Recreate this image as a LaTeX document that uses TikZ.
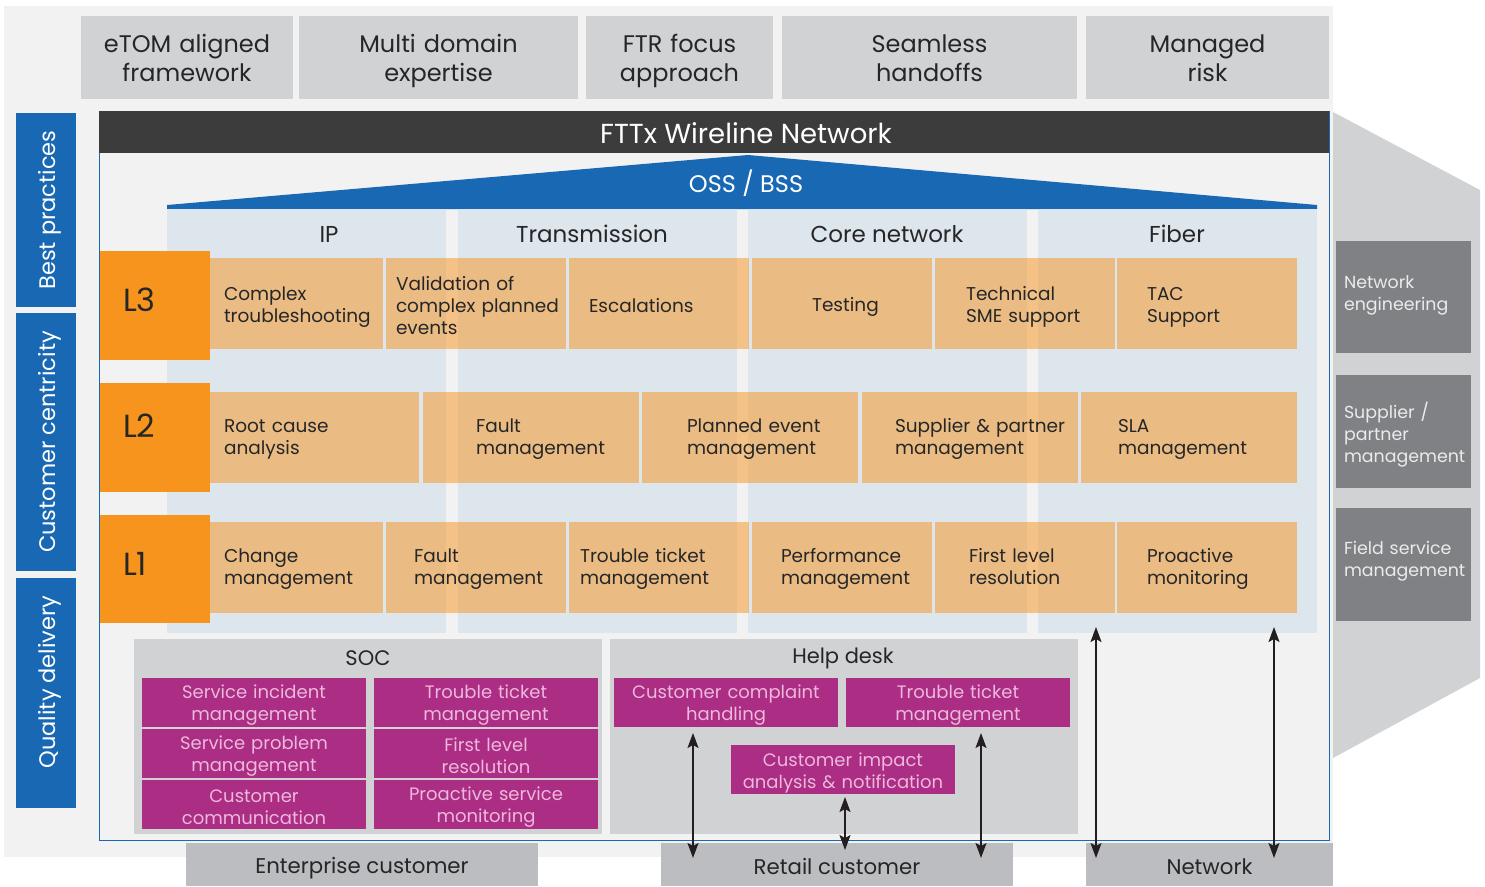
\documentclass[tikz,border=0pt]{standalone}
\usepackage{fontspec}
\setmainfont{Poppins}
\usetikzlibrary{arrows.meta}
\hyphenpenalty=10000
\exhyphenpenalty=10000
\definecolor{bgl}{HTML}{F2F2F2}
\definecolor{tgrey}{HTML}{D1D2D4}
\definecolor{cgrey}{HTML}{BCBDC0}
\definecolor{dgrey}{HTML}{808185}
\definecolor{hbar}{HTML}{3C3C3C}
\definecolor{blu}{HTML}{1868B3}
\definecolor{lblu}{HTML}{DDE5ED}
\definecolor{org}{HTML}{F7941D}
\definecolor{mag}{HTML}{AB2D84}
\definecolor{mpink}{HTML}{EDB8DC}
\definecolor{txt}{HTML}{262626}
\definecolor{arrc}{HTML}{231F20}
\newcommand\myfs[2]{\fontsize{#1}{#2}\selectfont}
\newcommand\mysta{\rule{0pt}{1.1em}}
\newcommand\mystb{\rule[-0.12em]{0pt}{0.12em}}
\newcommand\bx[7][]{\pgfmathsetmacro\myW{#4-#3}\pgfmathsetmacro\myH{#6-#5}%
  \node[#1,minimum width=\myW pt,minimum height=\myH pt] (#2) at ({(#3+#4)/2},{(#5+#6)/2}) {#7};}
\begin{document}
\begin{tikzpicture}[x=1pt,y=-1pt,
  every node/.style={inner sep=0pt,outer sep=0pt,execute at begin node=\mysta,execute at end node=\mystb},
  topbox/.style={fill=tgrey,text=txt,align=center,font=\myfs{24}{29},execute at end node={\rule[-6.9pt]{0pt}{0pt}}},
  bluebar/.style={fill=blu,text=white,font=\myfs{22.5}{26}},
  col/.style={fill=lblu},
  colhead/.style={text=txt,font=\myfs{23}{28}},
  lbox/.style={fill=org},
  ltext/.style={text=txt,font=\myfs{32}{36}},
  tan/.style={fill=org,fill opacity=0.5,text opacity=1,text=txt,align=left,font=\myfs{18.5}{22}},
  up3/.style={execute at end node={\rule[-8.2pt]{0pt}{0pt}}},
  greybox/.style={fill=tgrey},
  glabel/.style={text=txt,font=\myfs{21}{25}},
  magbox/.style={fill=mag,text=mpink,align=center,text width=224pt,font=\myfs{18}{22}},
  rbox/.style={fill=dgrey},
  rtext/.style={text=white!92!black,align=left,text width=125pt,font=\myfs{17.4}{22}},
  custbox/.style={fill=cgrey,text=txt,font=\myfs{21.3}{25}},
  arr/.style={draw=arrc,line width=1.5pt,{Stealth[length=15pt,width=11pt,inset=3pt]}-{Stealth[length=15pt,width=11pt,inset=3pt]}}
]
\useasboundingbox (0,0) rectangle (1485,886);
\fill[bgl] (4,6) rectangle (1333,857);
% right trapezoid
\fill[tgrey] (1333,112) -- (1480,190) -- (1480,678) -- (1333,758) -- cycle;
% top boxes
\bx[topbox,text width=212pt]{t1}{81}{293}{16}{99}{eTOM aligned\\framework}
\bx[topbox,text width=279pt]{t2}{299}{578}{16}{99}{Multi domain\\expertise}
\bx[topbox,text width=187pt]{t3}{586}{773}{16}{99}{FTR focus\\approach}
\bx[topbox,text width=295pt]{t4}{782}{1077}{16}{99}{Seamless\\handoffs}
\bx[topbox,text width=243pt]{t5}{1086}{1329}{16}{99}{Managed\\risk}
% left bars
\node[bluebar,rotate=90,minimum width=194pt,minimum height=60pt] (b1) at (46,210) {Best practices};
\node[bluebar,rotate=90,minimum width=258pt,minimum height=60pt] (b2) at (46,442) {Customer centricity};
\node[bluebar,rotate=90,minimum width=230pt,minimum height=60pt] (b3) at (46,693) {\hspace{22pt}Quality delivery};
% main frame
\bx[fill=bgl,draw=blu,line width=1pt]{frame}{99}{1329}{111}{840}{}
\bx[fill=hbar]{hdr}{99}{1329}{111}{153}{}
\node[text=white,font=\myfs{27.5}{32}] (hdrt) at (746,130) {FTTx Wireline Network};
% roof
\fill[blu] (167,209) -- (167,205) -- (748,155) -- (1317,205) -- (1317,209) -- cycle;
\node[text=white,font=\myfs{24}{28}] (oss) at (746,181) {OSS / BSS};
% columns
\bx[col]{cIP}{167}{446}{209}{633}{}
\bx[col]{cTR}{458}{737}{209}{633}{}
\bx[col]{cCN}{748}{1027}{209}{633}{}
\bx[col]{cFI}{1038}{1317}{209}{633}{}
\node[colhead] (hIP) at (329,231) {IP};
\node[colhead] (hTR) at (592,231) {Transmission};
\node[colhead] (hCN) at (887,231) {Core network};
\node[colhead] (hFI) at (1177,231) {Fiber};
% level boxes
\bx[lbox]{L3}{100}{210}{251}{360}{}
\bx[lbox]{L2}{100}{210}{383}{492}{}
\bx[lbox]{L1}{100}{210}{515}{623}{}
\node[ltext,anchor=west] (L3t) at (123,296) {L3};
\node[ltext,anchor=west] (L2t) at (123,422) {L2};
\node[ltext,anchor=west] (L1t) at (123,560) {L1};
% L3 row
\bx[tan,text width=145pt]{a1}{210}{383}{258}{349}{Complex\\troubleshooting}
\bx[tan,text width=160pt]{a2}{386}{566}{258}{349}{Validation~of\\complex~planned\\events}
\bx[tan,text width=140pt]{a3}{569}{749}{258}{349}{Escalations}
\bx[tan,text width=60pt]{a4}{752}{932}{258}{349}{Testing}
\bx[tan,text width=118pt]{a5}{935}{1115}{258}{349}{Technical\\SME~support}
\bx[tan,text width=120pt]{a6}{1117}{1297}{258}{349}{TAC\\Support}
% L2 row
\bx[tan,up3,text width=181pt]{b21}{210}{419}{392}{483}{Root~cause\\analysis}
\bx[tan,up3,text width=110pt]{b22}{423}{639}{392}{483}{Fault\\management}
\bx[tan,up3,text width=126pt]{b23}{642}{858}{392}{483}{Planned~event\\management}
\bx[tan,up3,text width=150pt]{b24}{862}{1078}{392}{483}{\mbox{Supplier \& partner}\\management}
\bx[tan,up3,text width=142pt]{b25}{1081}{1297}{392}{483}{SLA\\management}
% L1 row
\bx[tan,up3,text width=145pt]{c1}{210}{383}{522}{613}{Change\\management}
\bx[tan,up3,text width=124pt]{c2}{386}{566}{522}{613}{Fault\\management}
\bx[tan,up3,text width=158pt]{c3}{569}{749}{522}{613}{Trouble~ticket\\management}
\bx[tan,up3,text width=122pt]{c4}{752}{932}{522}{613}{Performance\\management}
\bx[tan,up3,text width=112pt]{c5}{935}{1115}{522}{613}{First~level\\resolution}
\bx[tan,up3,text width=120pt]{c6}{1117}{1297}{522}{613}{Proactive\\monitoring}
% right boxes
\bx[rbox]{r1}{1336}{1471}{241}{353}{}
\bx[rbox]{r2}{1336}{1471}{375}{488}{}
\bx[rbox]{r3}{1336}{1471}{508}{621}{}
\node[rtext,anchor=north west] (r1t) at (1344,269) {Network\\engineering};
\node[rtext,anchor=north west] (r2t) at (1344,399) {Supplier /\\partner\\management};
\node[rtext,anchor=north west] (r3t) at (1344,535) {Field service\\management};
% SOC and help desk
\bx[greybox]{soc}{134}{602}{639}{834}{}
\bx[greybox]{hd}{610}{1078}{639}{834}{}
\node[glabel] (socl) at (368,655) {SOC};
\node[glabel] (hdl) at (843,655) {Help desk};
\bx[magbox]{s1}{142}{366}{678}{727}{Service incident\\management}
\bx[magbox]{s2}{142}{366}{729}{778}{Service problem\\management}
\bx[magbox]{s3}{142}{366}{780}{829}{Customer\\communication}
\bx[magbox]{s4}{374}{598}{678}{727}{Trouble ticket\\management}
\bx[magbox]{s5}{374}{598}{729}{778}{First level\\resolution}
\bx[magbox]{s6}{374}{598}{780}{829}{Proactive service\\monitoring}
\bx[magbox]{h1}{614}{838}{678}{727}{Customer complaint\\handling}
\bx[magbox]{h2}{846}{1070}{678}{727}{Trouble ticket\\management}
\bx[magbox]{h3}{731}{955}{745}{794}{Customer impact\\analysis \& notification}
% customers
\bx[custbox]{ent}{186}{538}{843}{886}{Enterprise customer}
\bx[custbox]{ret}{661}{1013}{843}{886}{Retail customer}
\bx[custbox]{net}{1086}{1333}{843}{886}{Network}
% arrows
\coordinate (p1a) at (693,733); \coordinate (p1b) at (693,858);
\coordinate (p2a) at (845,797); \coordinate (p2b) at (845,850);
\coordinate (p3a) at (981,733); \coordinate (p3b) at (981,858);
\coordinate (p4a) at (1096,627); \coordinate (p4b) at (1096,858);
\coordinate (p5a) at (1274,627); \coordinate (p5b) at (1274,858);
\draw[arr] (p1a) -- (p1b);
\draw[arr] (p2a) -- (p2b);
\draw[arr] (p3a) -- (p3b);
\draw[arr] (p4a) -- (p4b);
\draw[arr] (p5a) -- (p5b);
\end{tikzpicture}
\end{document}
